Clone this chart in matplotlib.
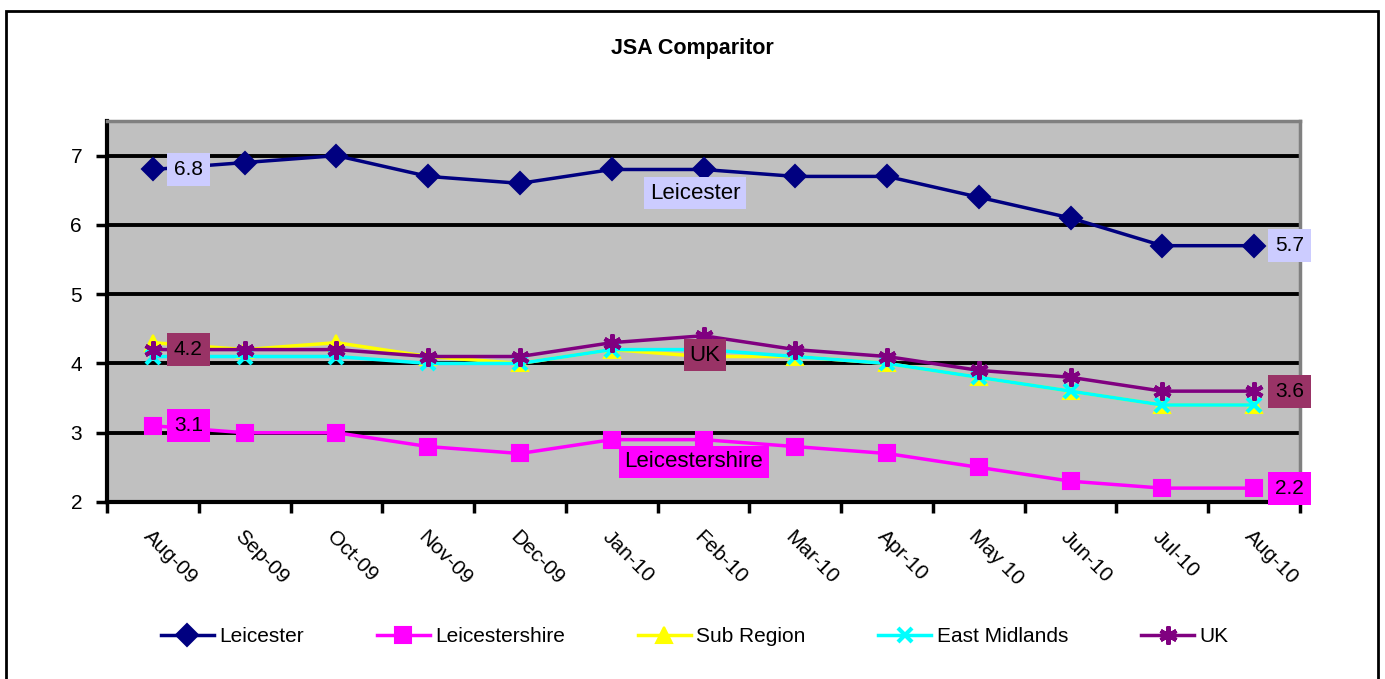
import matplotlib.pyplot as plt
import matplotlib.patches as patches
import numpy as np

plt.rcParams['font.family'] = ['Liberation Sans', 'DejaVu Sans']

months = ['Aug-09', 'Sep-09', 'Oct-09', 'Nov-09', 'Dec-09', 'Jan-10', 'Feb-10',
          'Mar-10', 'Apr-10', 'May 10', 'Jun-10', 'Jul-10', 'Aug-10']
leicester = [6.8, 6.9, 7.0, 6.7, 6.6, 6.8, 6.8, 6.7, 6.7, 6.4, 6.1, 5.7, 5.7]
leicestershire = [3.1, 3.0, 3.0, 2.8, 2.7, 2.9, 2.9, 2.8, 2.7, 2.5, 2.3, 2.2, 2.2]
sub_region = [4.3, 4.2, 4.3, 4.1, 4.0, 4.2, 4.1, 4.1, 4.0, 3.8, 3.6, 3.4, 3.4]
east_midlands = [4.1, 4.1, 4.1, 4.0, 4.0, 4.2, 4.2, 4.1, 4.0, 3.8, 3.6, 3.4, 3.4]
uk = [4.2, 4.2, 4.2, 4.1, 4.1, 4.3, 4.4, 4.2, 4.1, 3.9, 3.8, 3.6, 3.6]

x = np.arange(len(months))

fig = plt.figure(figsize=(13.85, 6.79), dpi=100)
ax = fig.add_axes([0.0773, 0.2607, 0.8613, 0.5611])
ax.set_facecolor('#C0C0C0')

# outer chart frame
fig.patches.append(patches.Rectangle((0.0045, -0.05), 0.9905, 1.034, transform=fig.transFigure,
                                     fill=False, edgecolor='black', linewidth=2))

series = [
    ('Leicester', leicester, '#000080', 'D', 11, 1.5),
    ('Leicestershire', leicestershire, '#FF00FF', 's', 12, 1.5),
    ('Sub Region', sub_region, '#FFFF00', '^', 11, 1.5),
    ('East Midlands', east_midlands, '#00FFFF', 'x', 10, 3),
    ('UK', uk, '#800080', (6, 2, 0), 13, 3),
]
handles = []
for i, (name, vals, col, mk, ms, mew) in enumerate(series):
    h, = ax.plot(x, vals, color=col, lw=2.5, marker=mk, markersize=ms,
                 markeredgewidth=mew, markeredgecolor=col, markerfacecolor=col,
                 label=name, zorder=3 + i * 0.1)
    handles.append(h)

ax.set_xlim(-0.5, 12.5)
ax.set_ylim(2, 7.5)
ax.set_yticks([2, 3, 4, 5, 6, 7])
ax.grid(axis='y', color='black', linewidth=2.8, zorder=1)
ax.set_axisbelow(True)

ax.set_xticks(x)
ax.set_xticklabels(months, rotation=-45, ha='left', va='top', rotation_mode='anchor', fontsize=15)
ax.set_xticks(np.arange(-0.5, 13, 1), minor=True)
ax.tick_params(axis='x', which='major', length=0, pad=18)
ax.tick_params(axis='x', which='minor', length=8, width=2.5, direction='out')
ax.tick_params(axis='y', length=8, width=2.5, direction='out', labelsize=15, pad=10)

for s in ['left', 'bottom']:
    ax.spines[s].set_linewidth(3)
    ax.spines[s].set_color('black')
for s in ['top', 'right']:
    ax.spines[s].set_linewidth(2.5)
    ax.spines[s].set_color('#808080')


# value labels at the first and last points
def value_box(xi, v, bg):
    ax.annotate(f'{v:.1f}', xy=(xi, v), xytext=(15, 0), textcoords='offset points',
                ha='left', va='center', fontsize=15,
                bbox=dict(boxstyle='square,pad=0.33', edgecolor='none', facecolor=bg), zorder=5)


value_box(0, leicester[0], '#CCCCFF')
value_box(12, leicester[-1], '#CCCCFF')
value_box(0, uk[0], '#993366')
value_box(12, uk[-1], '#993366')
value_box(0, leicestershire[0], '#FF00FF')
value_box(12, leicestershire[-1], '#FF00FF')


# series name labels at Feb-10
def name_box(xi, v, text, bg, dx, dy):
    ax.annotate(text, xy=(xi, v), xytext=(dx, dy), textcoords='offset points',
                ha='center', va='center', fontsize=16,
                bbox=dict(boxstyle='square,pad=0.25', edgecolor='none', facecolor=bg), zorder=5)


name_box(6, leicester[6], 'Leicester', '#CCCCFF', -6, -17)
name_box(6, uk[6], 'UK', '#993366', 1, -14)
name_box(6, leicestershire[6], 'Leicestershire', '#FF00FF', -7, -16)

fig.text(0.5, 0.928, 'JSA Comparitor', ha='center', va='center', fontsize=15.5, fontweight='bold')

fig.legend(handles, [s[0] for s in series],
           loc='center', bbox_to_anchor=(0.5015, 0.062), ncol=5, frameon=False,
           fontsize=15, handlelength=2.55, columnspacing=3.5, handletextpad=0.25)

fig.savefig('out.png', dpi=100)
